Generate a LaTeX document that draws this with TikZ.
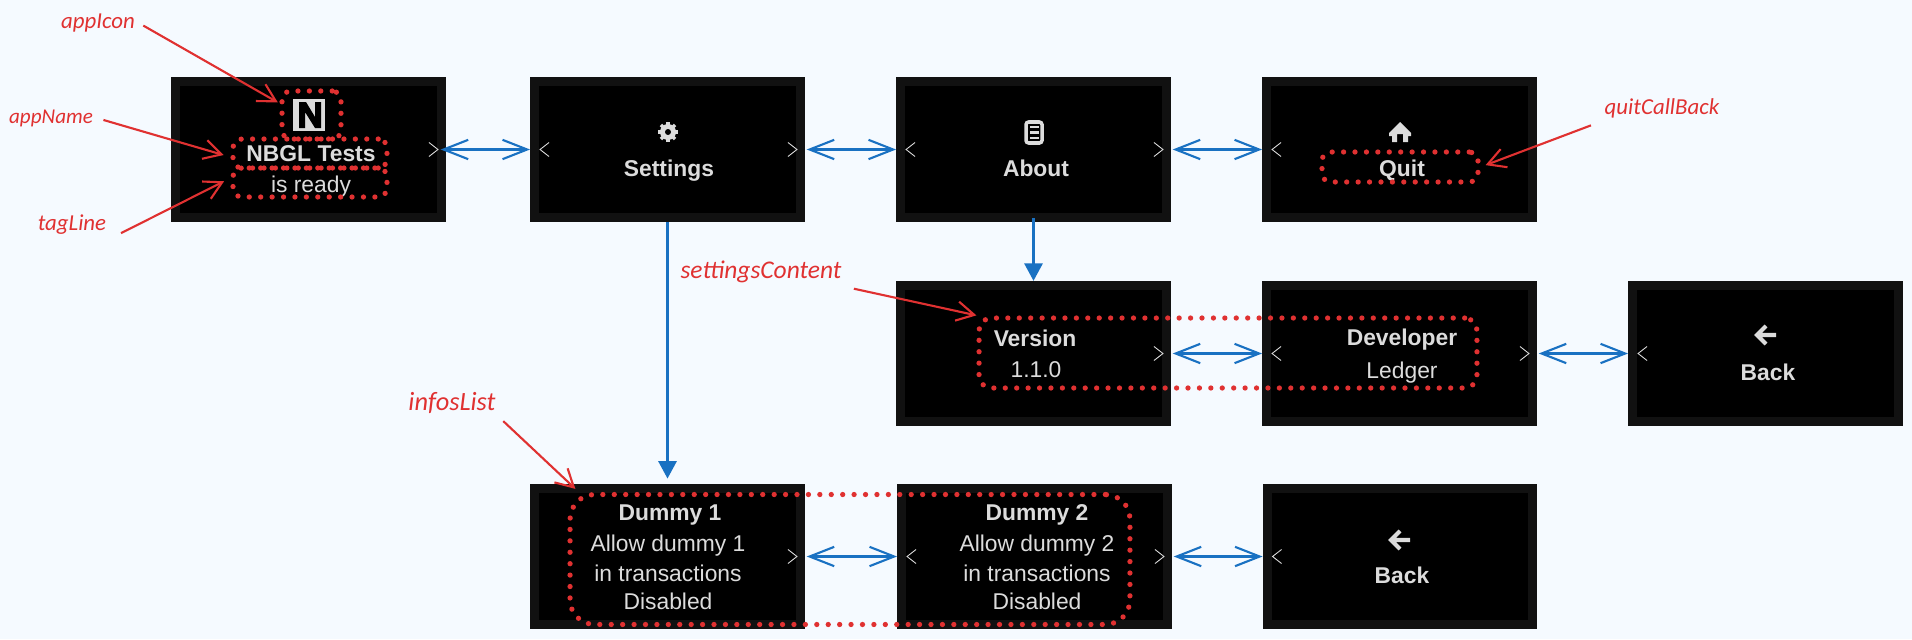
\documentclass[tikz,border=0pt]{standalone}
\usepackage{fontspec}
\setmainfont{Liberation Sans}
\newfontfamily\notefont{Carlito}
\usetikzlibrary{arrows.meta}

\definecolor{pagebg}{HTML}{F5FAFF}
\definecolor{screenedge}{HTML}{111111}
\definecolor{screentxt}{HTML}{DCDCDC}
\definecolor{notered}{HTML}{E03131}
\definecolor{navblue}{HTML}{1971C2}

\tikzset{
	screen/.style={fill=black,draw=screenedge,line width=0.18cm,minimum width=5.32cm,minimum height=2.72cm,inner sep=0pt},
	titletxt/.style={text=screentxt,font=\bfseries\fontsize{13}{15}\selectfont,inner sep=0pt},
	bodytxt/.style={text=screentxt,font=\fontsize{13}{15}\selectfont,inner sep=0pt},
	chevron/.style={draw=screentxt,line width=0.5pt},
	hotspot/.style={draw=notered,line width=3pt,line cap=round,dash pattern=on 0pt off 6.5pt,rounded corners=5pt},
	notetxt/.style={text=notered,font=\notefont\itshape\fontsize{13}{15}\selectfont,inner sep=2pt},
	notearrow/.style={draw=notered,line width=1.2pt,-{Straight Barb[length=10pt,width=11pt]}},
	navarrow/.style={draw=navblue,line width=1.2pt,{Straight Barb[length=14pt,width=11pt]}-{Straight Barb[length=14pt,width=11pt]}},
	downarrow/.style={draw=navblue,line width=2.2pt,-{Triangle[length=10pt,width=10pt]}}
}

\newcommand{\chevleft}[1]{\draw[chevron] ([shift={(19,-7)}]#1.west) -- ([shift={(10,0)}]#1.west) -- ([shift={(19,7)}]#1.west);}
\newcommand{\chevright}[1]{\draw[chevron] ([shift={(-17,-7)}]#1.east) -- ([shift={(-8,0)}]#1.east) -- ([shift={(-17,7)}]#1.east);}
\newcommand{\backicon}[2]{\draw[screentxt,line width=2.3pt] (#1+20,#2) -- (#1+1,#2) (#1+10,#2-9) -- (#1+1,#2) -- (#1+10,#2+9);}

\begin{document}
\begin{tikzpicture}[x=0.02cm,y=-0.02cm] %one unit is one pixel of the reference
	\useasboundingbox[fill=pagebg] (0,0) rectangle (1912,639);

	%screens
	\node[screen] (home) at (308.5,149.5) {};
	\node[screen] (settings) at (667.5,149.5) {};
	\node[screen] (about) at (1033.5,149.5) {};
	\node[screen] (quit) at (1399.5,149.5) {};
	\node[screen] (version) at (1033.5,353.5) {};
	\node[screen] (developer) at (1399.5,353.5) {};
	\node[screen] (backone) at (1765.5,353.5) {};
	\node[screen] (dummyone) at (667.5,556.5) {};
	\node[screen] (dummytwo) at (1034.5,556.5) {};
	\node[screen] (backtwo) at (1400,556.5) {};

	\chevright{home}
	\chevleft{settings} \chevright{settings}
	\chevleft{about} \chevright{about}
	\chevleft{quit}
	\chevright{version}
	\chevleft{developer} \chevright{developer}
	\chevleft{backone}
	\chevright{dummyone}
	\chevleft{dummytwo} \chevright{dummytwo}
	\chevleft{backtwo}

	%screen texts
	\node[titletxt] (nbgl) at (311,154) {NBGL Tests};
	\node[bodytxt] (ready) at (311,187) {is ready};
	\node[titletxt] at (669,171) {Settings};
	\node[titletxt] at (1036,168) {About};
	\node[titletxt] at (1402,170) {Quit};
	\node[titletxt] at (1035,338) {Version};
	\node[bodytxt] at (1036,370) {1.1.0};
	\node[titletxt] at (1402,340) {Developer};
	\node[bodytxt] at (1402,373) {Ledger};
	\node[titletxt] at (1768,372) {Back};
	\node[titletxt] at (1402,575) {Back};
	\node[titletxt] at (670,515) {Dummy 1};
	\node[bodytxt] at (668,546) {Allow dummy 1};
	\node[bodytxt] at (668,573) {in transactions};
	\node[bodytxt] at (668,601) {Disabled};
	\node[titletxt] at (1037,515) {Dummy 2};
	\node[bodytxt] at (1037,546) {Allow dummy 2};
	\node[bodytxt] at (1037,573) {in transactions};
	\node[bodytxt] at (1037,601) {Disabled};

	%icons
	\fill[screentxt] (293,99) rectangle (325,131);
	\fill[black] (299,102) -- (306,102) -- (315,117) -- (315,102) -- (321,102) -- (321,128) -- (315,128) -- (305,112) -- (305,128) -- (299,128) -- cycle;
	\foreach \a in {0,45,...,315}
		\draw[screentxt,line width=2pt] (668,132) -- ++(\a:10);
	\fill[screentxt,even odd rule] (668,132) circle (8) (668,132) circle (3);
	\fill[black] (668,132) circle (3);
	\draw[screentxt,line width=2pt,rounded corners=1.5pt] (1026,122) rectangle (1042,143);
	\draw[screentxt,line width=1.7pt] (1030,127) -- (1039,127) (1030,132.5) -- (1039,132.5) (1030,138) -- (1039,138);
	\fill[screentxt] (1400,122) -- (1411,133) -- (1411,136) -- (1408,136) -- (1408,142) -- (1403,142) -- (1403,134) -- (1397,134) -- (1397,142) -- (1392,142) -- (1392,136) -- (1389,136) -- (1389,133) -- cycle;
	\backicon{1756}{335}
	\backicon{1390}{540}

	%hotspots
	\node[hotspot,minimum width=1.18cm,minimum height=0.96cm,inner sep=0pt] (iconbox) at (311.5,115) {};
	\node[hotspot,minimum width=3.08cm,minimum height=0.58cm,inner sep=0pt] (namebox) at (310,153.5) {};
	\node[hotspot,minimum width=3.08cm,minimum height=0.58cm,inner sep=0pt] (tagbox) at (310,182.5) {};
	\node[hotspot,minimum width=3.12cm,minimum height=0.6cm,inner sep=0pt] (quitbox) at (1400,167) {};
	\node[hotspot,minimum width=9.96cm,minimum height=1.4cm,inner sep=0pt,rounded corners=7pt] (contentbox) at (1228,353) {};
	\node[hotspot,minimum width=11.2cm,minimum height=2.6cm,inner sep=0pt,rounded corners=14pt] (infosbox) at (850,559.5) {};

	%notes
	\node[notetxt] (appicon) at (98,23) {appIcon};
	\node[notetxt,font=\notefont\itshape\fontsize{12}{14}\selectfont] (appname) at (51,118) {appName};
	\node[notetxt] (tagline) at (72,225) {tagLine};
	\node[notetxt] (quitnote) at (1662,108) {quitCallBack};
	\node[notetxt,font=\notefont\itshape\fontsize{14.5}{16}\selectfont] (contentnote) at (761,272) {settingsContent};
	\node[notetxt,font=\notefont\itshape\fontsize{15}{17}\selectfont] (infosnote) at (452,403) {infosList};

	\draw[notearrow,shorten <=3pt,shorten >=1pt] (appicon.east) -- (iconbox.160);
	\draw[notearrow,shorten <=4pt,shorten >=4pt] (appname.east) -- ([yshift=-2pt]namebox.west);
	\draw[notearrow,shorten <=7pt,shorten >=4pt] (tagline.south east) -- ([yshift=2.5pt]tagbox.west);
	\draw[notearrow,shorten <=6pt,shorten >=3pt] (quitnote.south west) -- (quitbox.east);
	\draw[notearrow,shorten <=5pt,shorten >=0pt] (contentnote.south east) -- (contentbox.north west);
	\draw[notearrow,shorten <=3pt,shorten >=0pt] (infosnote.south east) -- ([shift={(8,-3)}]infosbox.north west);

	%navigation
	\draw[navarrow,shorten <=-3pt] (home.east) -- (settings.west);
	\draw[navarrow,shorten <=1pt] (settings.east) -- (about.west);
	\draw[navarrow,shorten <=1pt] (about.east) -- (quit.west);
	\draw[navarrow,shorten <=1pt] (version.east) -- (developer.west);
	\draw[navarrow,shorten <=1pt] (developer.east) -- (backone.west);
	\draw[navarrow,shorten <=1pt] (dummyone.east) -- (dummytwo.west);
	\draw[navarrow,shorten <=1pt] (dummytwo.east) -- (backtwo.west);
	\draw[downarrow,shorten <=-2pt] (about.south) -- (version.north);
	\draw[downarrow,shorten <=0pt,shorten >=3pt] (settings.south) -- (dummyone.north);
\end{tikzpicture}
\end{document}
